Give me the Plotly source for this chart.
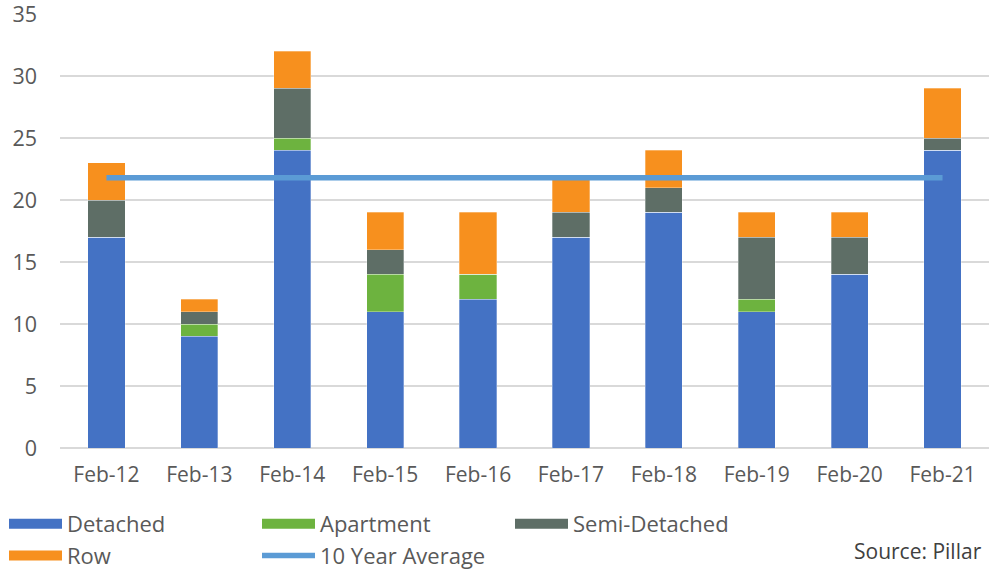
import plotly.graph_objects as go

categories = ["Feb-12", "Feb-13", "Feb-14", "Feb-15", "Feb-16", "Feb-17", "Feb-18", "Feb-19", "Feb-20", "Feb-21"]
detached = [17, 9, 24, 11, 12, 17, 19, 11, 14, 24]
apartment = [0, 1, 1, 3, 2, 0, 0, 1, 0, 0]
semi_detached = [3, 1, 4, 2, 0, 2, 2, 5, 3, 1]
row = [3, 1, 3, 3, 5, 3, 3, 2, 2, 4]
ten_year_avg = [21.8] * 10
y_ticks = [0, 5, 10, 15, 20, 25, 30, 35]

colors = {
    "Detached": "#4472C4",
    "Apartment": "#6DB33F",
    "Semi-Detached": "#5E6E66",
    "Row": "#F7901E",
    "10 Year Average": "#5B9BD5",
}

FONT = "Open Sans, Lato, sans-serif"
FIG_W, FIG_H = 989, 569
M_L, M_R, M_T, M_B = 60, 0, 14, 121
PLOT_W = FIG_W - M_L - M_R
PLOT_H = FIG_H - M_T - M_B

fig = go.Figure()
for name, vals in [("Detached", detached), ("Apartment", apartment),
                   ("Semi-Detached", semi_detached), ("Row", row)]:
    fig.add_trace(go.Bar(
        x=categories, y=vals, name=name, marker_color=colors[name],
        marker_line=dict(color="rgba(255,255,255,0.5)", width=0.6),
        width=0.4, showlegend=False,
    ))
    # legend proxy (wide swatch like the reference)
    fig.add_trace(go.Scatter(
        x=[None], y=[None], mode="lines", name=name,
        line=dict(color=colors[name], width=11),
    ))

fig.add_trace(go.Scatter(
    x=categories, y=ten_year_avg, mode="lines", name="10 Year Average",
    line=dict(color=colors["10 Year Average"], width=5.5),
))

fig.update_layout(
    barmode="stack",
    width=FIG_W, height=FIG_H,
    margin=dict(l=M_L, r=M_R, t=M_T, b=M_B, autoexpand=False),
    plot_bgcolor="white", paper_bgcolor="white",
    font=dict(family=FONT, color="#595959", size=21),
    xaxis=dict(
        type="category", showgrid=False, showline=False, ticks="",
        tickfont=dict(size=21, color="#595959"),
        ticklabelstandoff=12, automargin=False,
    ),
    yaxis=dict(
        range=[0, 35], tickvals=y_ticks, showline=False,
        gridcolor="#D9D9D9", gridwidth=2, zeroline=True,
        zerolinecolor="#D9D9D9", zerolinewidth=2,
        tickfont=dict(size=21.5, color="#595959"),
        ticklabelstandoff=22, ticks="", automargin=False,
        ticklabeloverflow="allow",
    ),
    legend=dict(
        orientation="h", x=-56/PLOT_W, xanchor="left", y=-55/PLOT_H, yanchor="top",
        entrywidth=185, entrywidthmode="pixels", itemwidth=53,
        font=dict(size=22, color="#595959"), traceorder="normal",
        tracegroupgap=0, itemclick=False, bgcolor="rgba(0,0,0,0)",
    ),
    annotations=[dict(
        text="Source: Pillar", xref="paper", yref="paper",
        x=(852-M_L)/PLOT_W, y=-103/PLOT_H, xanchor="left", yanchor="middle",
        showarrow=False, font=dict(family=FONT, size=21, color="#404040"),
    )],
)

fig.write_html(
    "out.html",
    config={"displayModeBar": False},
    post_script="document.body.style.margin='0';document.body.style.padding='0';",
)
